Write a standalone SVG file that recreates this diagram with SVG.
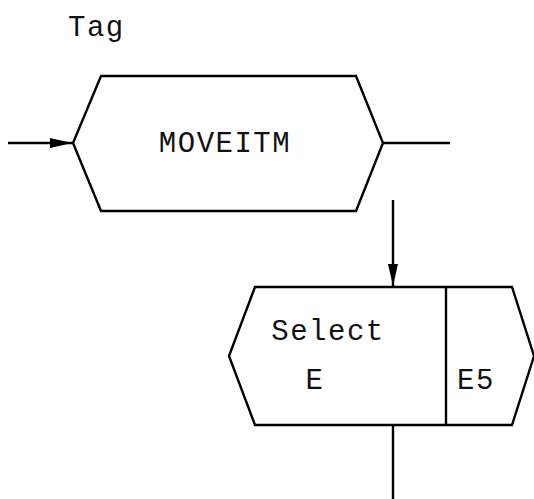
<svg xmlns="http://www.w3.org/2000/svg" width="534" height="499" viewBox="0 0 534 499">
<style>
.shape{fill:#fff;stroke:#000;stroke-width:2.4;stroke-linejoin:miter}
.ln{fill:none;stroke:#000;stroke-width:2.4}
.t{font-family:"Liberation Mono","Courier New",monospace;font-size:29px;letter-spacing:1.5px;fill:#111}
</style>
<defs>
<marker id="av" viewBox="0 0 22 12" refX="22" refY="6" markerWidth="22" markerHeight="12" markerUnits="userSpaceOnUse" orient="auto">
<path d="M0,1 L22,6 L0,11 Z" fill="#000"/>
</marker>
</defs>
<text class="t" x="68" y="36">Tag</text>
<g id="moveitm">
<polygon class="shape" points="101,76 356,76 383,143 356,211 101,211 73,143"/>
<text class="t" x="225" y="152" text-anchor="middle">MOVEITM</text>
</g>
<g id="select">
<polygon class="shape" points="255,287 512,287 534,356 512,425 255,425 229,356"/>
<line class="ln" x1="446" y1="287" x2="446" y2="425"/>
<text class="t" x="328" y="340" text-anchor="middle">Select</text>
<text class="t" x="315" y="389" text-anchor="middle">E</text>
<text class="t" x="476" y="389" text-anchor="middle">E5</text>
</g>
<g id="connectors">
<line class="ln" x1="8" y1="143" x2="72" y2="143" marker-end="url(#av)"/>
<line class="ln" x1="383" y1="143" x2="450" y2="143"/>
<line class="ln" x1="393" y1="200" x2="393" y2="286" marker-end="url(#av)"/>
<line class="ln" x1="393" y1="425" x2="393" y2="499"/>
</g>
</svg>
